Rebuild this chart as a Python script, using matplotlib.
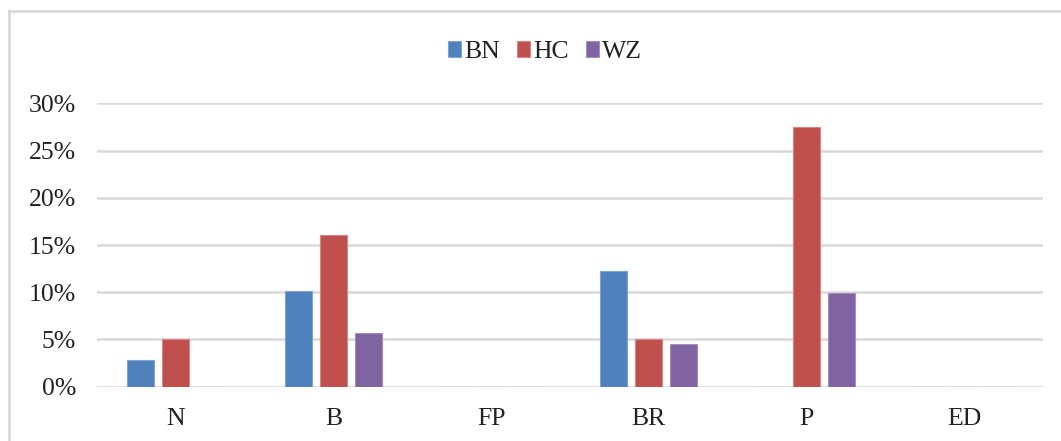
import matplotlib
matplotlib.use("Agg")
import matplotlib.pyplot as plt
from matplotlib.lines import Line2D
import numpy as np

categories = ["N", "B", "FP", "BR", "P", "ED"]
series_names = ["BN", "HC", "WZ"]
bn = [2.8, 10.1, 0, 12.2, 0, 0]
hc = [5.0, 16.1, 0, 5.1, 27.5, 0]
wz = [0, 5.7, 0, 4.5, 9.9, 0]
yticks = [0, 5, 10, 15, 20, 25, 30]
ytick_labels = ["0%", "5%", "10%", "15%", "20%", "25%", "30%"]

colors = ["#4F81BD", "#C0504D", "#8064A2"]
edges = ["#7FA3D3", "#D98583", "#A28DBF"]

plt.rcParams['font.family'] = ['Liberation Serif', 'DejaVu Serif']

W, H = 1061, 441
fig = plt.figure(figsize=(W / 100, H / 100), dpi=100)
ax = fig.add_axes([97 / W, (H - 386.7) / H, (1043 - 97) / W, (386.7 - 103.3) / H])

x = np.arange(len(categories))
bw = 0.171
off = 0.222
for i, (vals, name) in enumerate(zip([bn, hc, wz], series_names)):
    ax.bar(x + (i - 1) * off, vals, width=bw, color=colors[i], edgecolor=edges[i],
           linewidth=0.8, label=name, zorder=3)

ax.set_xlim(-0.5, len(categories) - 0.5)
ax.set_ylim(0, 30)
ax.set_yticks(yticks)
ax.set_yticklabels(ytick_labels)
ax.set_xticks(x)
ax.set_xticklabels(categories)
ax.tick_params(axis='both', length=0, labelsize=18.5, colors='#222222')
ax.tick_params(axis='y', pad=15)
ax.tick_params(axis='x', pad=15.5)
for s in ax.spines.values():
    s.set_visible(False)
ax.yaxis.grid(True, color='#D9D9D9', linewidth=1.8, zorder=0)
ax.set_axisbelow(True)

leg = fig.legend(loc='center', bbox_to_anchor=(545 / W, 1 - 52 / H), ncol=3,
                 frameon=False, fontsize=18.5, handlelength=0.52, handleheight=0.55,
                 handletextpad=0.12, columnspacing=0.65, borderpad=0)
for t in leg.get_texts():
    t.set_color('#222222')

# chart border (top and left visible)
fig.add_artist(Line2D([9 / W, 9 / W], [0, 1 - 11 / H], transform=fig.transFigure,
                      color='#D9D9D9', linewidth=2))
fig.add_artist(Line2D([9 / W, 1], [1 - 11 / H, 1 - 11 / H], transform=fig.transFigure,
                      color='#D9D9D9', linewidth=2))

fig.savefig("out.png", dpi=100)
